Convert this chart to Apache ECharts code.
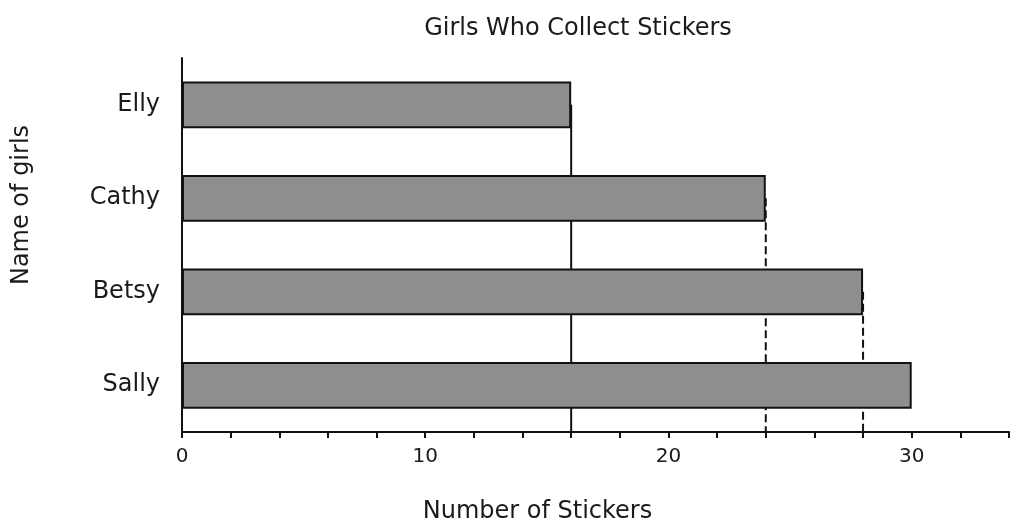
<!DOCTYPE html>
<html>
<head>
<meta charset="utf-8">
<script src="https://cdn.jsdelivr.net/npm/echarts@6/dist/echarts.min.js"></script>
<style>html,body{margin:0;padding:0;background:#fff;}#c{width:1023px;height:532px;}</style>
</head>
<body>
<div id="c"></div>
<script>
const categories = ['Sally', 'Betsy', 'Cathy', 'Elly'];
const values = [30, 28, 24, 16];
const xTickLabels = [0, 10, 20, 30];
// guide lines: value, the category bar they drop from, line style
const guideValues = [16, 24, 28];
const guideFrom = ['Elly', 'Cathy', 'Betsy'];
const guideTypes = ['solid', 'dashed', 'dashed'];

const chart = echarts.init(document.getElementById('c'));
const font = 'DejaVu Sans, Liberation Sans, Arial, sans-serif';
const guideSeries = guideValues.map((v, i) => ({
  type: 'line',
  yAxisIndex: 1,
  z: 1,
  symbol: 'none',
  silent: true,
  lineStyle: { color: '#111', width: 2, type: guideTypes[i] },
  data: [[v, categories.indexOf(guideFrom[i]) + 0.5], [v, 0]]
}));

chart.setOption({
  animation: false,
  title: {
    text: 'Girls Who Collect Stickers',
    left: 573, top: 12, textAlign: 'center',
    textStyle: { fontFamily: font, fontSize: 24, fontWeight: 'normal', color: '#1a1a1a' }
  },
  grid: { left: 182, right: 14, top: 58, bottom: 100, containLabel: false, outerBoundsMode: 'none' },
  xAxis: {
    type: 'value', min: 0, max: 34, interval: 2,
    name: 'Number of Stickers', nameLocation: 'middle', nameGap: 68,
    nameTextStyle: { fontFamily: font, fontSize: 24, color: '#1a1a1a', padding: [0, 116, 0, 0] },
    axisLine: { show: true, lineStyle: { color: '#111', width: 2 } },
    axisTick: { show: true, length: 6, lineStyle: { color: '#111', width: 2 } },
    splitLine: { show: false },
    axisLabel: {
      fontFamily: font, fontSize: 20, color: '#1a1a1a', margin: 15,
      formatter: v => xTickLabels.includes(v) ? String(v) : ''
    }
  },
  yAxis: [{
    type: 'category', data: categories,
    name: 'Name of girls', nameLocation: 'middle', nameGap: 148, nameRotate: 90,
    nameTextStyle: { fontFamily: font, fontSize: 24, color: '#1a1a1a', padding: [0, 0, 0, 80] },
    axisLine: { show: true, lineStyle: { color: '#111', width: 2 } },
    axisTick: { show: false },
    axisLabel: { fontFamily: font, fontSize: 24, color: '#1a1a1a', margin: 22 }
  }, {
    type: 'value', min: 0, max: 4, show: false
  }],
  series: [{
    type: 'bar', data: values, barWidth: '50%', z: 3,
    itemStyle: { color: '#8e8e8e', borderColor: '#111', borderWidth: 2 }
  }].concat(guideSeries)
});
</script>
</body>
</html>
